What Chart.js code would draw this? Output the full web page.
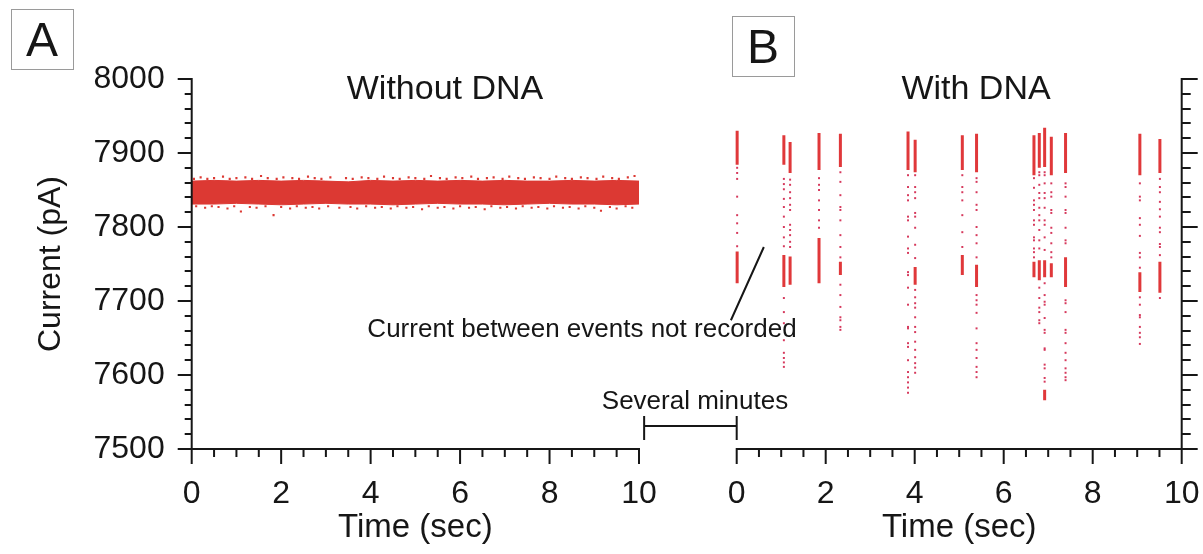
<!DOCTYPE html>
<html>
<head>
<meta charset="utf-8">
<script src="https://cdn.jsdelivr.net/npm/chart.js@4.4.1/dist/chart.umd.min.js"></script>
<style>
  html, body { margin: 0; padding: 0; background: #fff; }
  #wrap { position: relative; width: 1203px; height: 554px; overflow: hidden; }
  #wrap canvas { position: absolute; left: 0; top: 0; }
</style>
</head>
<body>
<div id="wrap">
  <canvas id="leftChart" width="1203" height="554"></canvas>
  <canvas id="rightChart" width="1203" height="554"></canvas>
</div>
<script>
// tick labels
const xTicks = [0, 2, 4, 6, 8, 10];
const yTicks = [7500, 7600, 7700, 7800, 7900, 8000];

// left panel (without DNA): dense noise band envelope, sampled every 0.5 s
const bandX = [0, 0.5, 1, 1.5, 2, 2.5, 3, 3.5, 4, 4.5, 5, 5.5, 6, 6.5, 7, 7.5, 8, 8.5, 9, 9.5, 10];
const bandUpper = [7862, 7863, 7862, 7863, 7862, 7863, 7862, 7861, 7863, 7862, 7863, 7862, 7863, 7862, 7863, 7862, 7862, 7863, 7862, 7863, 7862];
const bandLower = [7831, 7831, 7832, 7831, 7830, 7831, 7832, 7831, 7831, 7830, 7831, 7832, 7831, 7831, 7830, 7831, 7832, 7831, 7831, 7830, 7831];
// ragged samples at the band edges
const speckX = [0.05, 0.2, 0.35, 0.5, 0.7, 0.85, 1.0, 1.2, 1.35, 1.55, 1.7, 1.9, 2.05, 2.25, 2.4, 2.6, 2.75, 2.9, 3.1, 3.45, 3.6, 3.8, 3.95,
  4.15, 4.3, 4.5, 4.65, 4.85, 5.0, 5.2, 5.35, 5.55, 5.7, 5.9, 6.05, 6.25, 6.4, 6.6, 6.75, 6.95, 7.1, 7.3, 7.45, 7.65, 7.8, 8.0, 8.15,
  8.35, 8.5, 8.7, 8.85, 9.05, 9.2, 9.4, 9.55, 9.75, 9.9,
  0.1, 0.3, 0.45, 0.6, 0.8, 0.95, 1.1, 1.3, 1.45, 1.65, 1.83, 2.0, 2.2, 2.35, 2.55, 2.7, 2.85, 3.05, 3.3, 3.55, 3.7, 3.9, 4.1,
  4.25, 4.45, 4.6, 4.8, 4.95, 5.15, 5.3, 5.5, 5.65, 5.85, 6.0, 6.2, 6.35, 6.55, 6.7, 6.9, 7.05, 7.25, 7.4, 7.6, 7.75, 7.95,
  8.1, 8.3, 8.45, 8.65, 8.8, 9.0, 9.15, 9.35, 9.5, 9.7, 9.85, 9.98];
const speckY = [7865, 7867, 7865, 7866, 7868, 7865, 7866, 7867, 7865, 7869, 7866, 7865, 7867, 7866, 7865, 7868, 7866, 7865, 7867, 7866, 7865, 7867, 7866,
  7865, 7868, 7866, 7865, 7867, 7866, 7865, 7869, 7866, 7865, 7867, 7866, 7868, 7865, 7866, 7867, 7865, 7868, 7866, 7865, 7867, 7866, 7865, 7868,
  7866, 7865, 7867, 7866, 7865, 7868, 7866, 7865, 7867, 7869,
  7828, 7826, 7828, 7827, 7825, 7828, 7821, 7827, 7826, 7828, 7816, 7827, 7825, 7828, 7826, 7827, 7825, 7828, 7826, 7827, 7825, 7828, 7826,
  7827, 7825, 7828, 7826, 7827, 7824, 7828, 7826, 7827, 7825, 7828, 7826, 7827, 7824, 7828, 7826, 7827, 7825, 7828, 7826, 7827,
  7825, 7828, 7826, 7827, 7825, 7828, 7826, 7822, 7827, 7825, 7828, 7826];

// right panel (with DNA): events
const eventX = [0.01, 1.06, 1.20, 1.85, 2.33, 3.85, 4.01, 5.07, 5.39, 6.68, 6.80, 6.92, 7.07, 7.39, 9.06, 9.51];
const eventSolid = [
  [[7884, 7930], [7724, 7767]],
  [[7884, 7924], [7719, 7762]],
  [[7873, 7915], [7722, 7760]],
  [[7877, 7927], [7724, 7785]],
  [[7881, 7926], [7735, 7753]],
  [[7877, 7929]],
  [[7874, 7918], [7722, 7746]],
  [[7877, 7924], [7735, 7762]],
  [[7874, 7926], [7719, 7749]],
  [[7870, 7924], [7732, 7753]],
  [[7880, 7927], [7728, 7755]],
  [[7881, 7934], [7732, 7755], [7566, 7580]],
  [[7870, 7922], [7732, 7751]],
  [[7873, 7927], [7719, 7759]],
  [[7870, 7926], [7712, 7739]],
  [[7873, 7919], [7711, 7753]]
];
const eventDots = [
  [7880, 7873, 7865, 7841, 7816, 7805, 7792, 7774],
  [7865, 7858, 7851, 7838, 7827, 7814, 7800, 7786, 7774, 7704, 7685, 7670, 7647, 7630, 7623, 7617, 7611],
  [7864, 7857, 7847, 7839, 7830, 7823, 7803, 7796, 7789, 7780, 7773],
  [7866, 7857, 7850, 7836, 7823, 7809, 7799],
  [7874, 7861, 7843, 7827, 7823, 7809, 7789, 7773, 7759, 7722, 7708, 7692, 7678, 7674, 7665, 7661],
  [7870, 7854, 7843, 7836, 7814, 7809, 7787, 7771, 7765, 7739, 7735, 7718, 7695, 7665, 7663, 7643, 7638, 7620, 7604, 7597, 7590, 7583, 7576],
  [7870, 7854, 7847, 7839, 7819, 7814, 7799, 7776, 7758, 7715, 7705, 7697, 7691, 7678, 7665, 7658, 7645, 7634, 7624, 7616, 7610, 7603],
  [7870, 7854, 7847, 7836, 7816, 7793, 7773],
  [7866, 7861, 7847, 7830, 7823, 7800, 7789, 7778, 7759, 7708, 7701, 7695, 7684, 7663, 7643, 7634, 7623, 7611, 7604, 7597],
  [7866, 7853, 7836, 7830, 7823, 7809, 7803, 7786, 7782, 7771, 7766, 7759],
  [7874, 7870, 7857, 7846, 7839, 7826, 7816, 7809, 7796, 7782, 7771, 7718, 7704, 7691, 7685, 7674, 7670],
  [7874, 7870, 7859, 7846, 7839, 7826, 7809, 7803, 7786, 7769, 7724, 7708, 7699, 7695, 7677, 7661, 7657, 7636, 7634, 7614, 7609, 7596, 7591],
  [7859, 7847, 7841, 7823, 7819, 7799, 7792, 7778, 7766, 7759],
  [7859, 7854, 7841, 7823, 7819, 7799, 7782, 7778, 7701, 7697, 7685, 7661, 7657, 7643, 7630, 7620, 7609, 7603, 7597, 7593],
  [7859, 7841, 7836, 7812, 7803, 7788, 7765, 7759, 7745, 7705, 7695, 7681, 7678, 7665, 7657, 7651, 7642],
  [7865, 7854, 7847, 7834, 7824, 7814, 7799, 7793, 7777, 7773, 7762, 7704]
];

const RED = '#e0383a';
const DOT = '#d6385c';
const BAND = '#dc3933';
const INK = '#161616';
const FONT = "'Liberation Sans', Arial, Helvetica, sans-serif";

Chart.defaults.font.family = FONT;
Chart.defaults.color = INK;

// draws axis lines with outward major/minor ticks through the chart scales
function axisPlugin(side) {
  return {
    id: 'axisFrame',
    afterDraw(chart) {
      const { ctx, chartArea, scales } = chart;
      const axX = side === 'left' ? chartArea.left : chartArea.right;
      const dir = side === 'left' ? -1 : 1;
      ctx.save();
      ctx.strokeStyle = INK;
      ctx.lineWidth = 2;
      ctx.beginPath();
      ctx.moveTo(axX, chartArea.top - 1);
      ctx.lineTo(axX, chartArea.bottom + 1);
      ctx.moveTo(chartArea.left - 1, chartArea.bottom);
      ctx.lineTo(chartArea.right + 1, chartArea.bottom);
      for (let v = 7500; v <= 8000; v += 20) {
        const py = Math.round(scales.y.getPixelForValue(v));
        const len = yTicks.includes(v) ? (side === 'left' ? 14 : 16) : (side === 'left' ? 7 : 9);
        ctx.moveTo(axX, py);
        ctx.lineTo(axX + dir * len, py);
      }
      for (let v = 0; v <= 10; v += 0.5) {
        const px = scales.x.getPixelForValue(v);
        const len = xTicks.includes(v) ? 15 : 8;
        ctx.moveTo(px, chartArea.bottom);
        ctx.lineTo(px, chartArea.bottom + len);
      }
      ctx.stroke();
      ctx.restore();
    }
  };
}

function labelBox(ctx, x, y, w, h, letter) {
  ctx.save();
  ctx.strokeStyle = '#9a9a9a';
  ctx.lineWidth = 1;
  ctx.strokeRect(x + 0.5, y + 0.5, w, h);
  ctx.fillStyle = INK;
  ctx.font = '300 48px ' + FONT;
  ctx.textAlign = 'center';
  ctx.textBaseline = 'alphabetic';
  ctx.fillText(letter, x + w / 2, y + h / 2 + 17);
  ctx.restore();
}

const leftNotes = {
  id: 'leftNotes',
  afterDraw(chart) {
    const ctx = chart.ctx;
    labelBox(ctx, 11, 9, 62, 60, 'A');
    ctx.save();
    ctx.fillStyle = INK;
    ctx.font = '34px ' + FONT;
    ctx.textAlign = 'center';
    ctx.fillText('Without DNA', 445, 99);
    ctx.restore();
  }
};

const rightNotes = {
  id: 'rightNotes',
  afterDraw(chart) {
    const { ctx, scales } = chart;
    const x = scales.x, y = scales.y;
    labelBox(ctx, 732, 16, 62, 60, 'B');
    ctx.save();
    ctx.fillStyle = INK;
    ctx.textAlign = 'center';
    ctx.font = '34px ' + FONT;
    ctx.fillText('With DNA', 976, 99);
    ctx.font = '26px ' + FONT;
    ctx.fillText('Current between events not recorded', 582, 337);
    ctx.fillText('Several minutes', 695, 409);
    ctx.strokeStyle = INK;
    ctx.lineWidth = 2;
    ctx.beginPath();
    // leader line to the gap between events
    ctx.moveTo(x.getPixelForValue(0.61), y.getPixelForValue(7773));
    ctx.lineTo(x.getPixelForValue(-0.13), y.getPixelForValue(7674));
    // "several minutes" bracket
    const bl = x.getPixelForValue(-2.08), br = x.getPixelForValue(0);
    const by = y.getPixelForValue(7531);
    ctx.moveTo(bl, by); ctx.lineTo(br, by);
    ctx.moveTo(bl, by - 10); ctx.lineTo(bl, by + 14);
    ctx.moveTo(br, by - 10); ctx.lineTo(br, by + 14);
    ctx.stroke();
    ctx.restore();
  }
};

function xScale() {
  return {
    type: 'linear',
    min: 0,
    max: 10,
    afterBuildTicks: s => { s.ticks = xTicks.map(v => ({ value: v })); },
    afterFit: s => { s.height = 105; s.paddingLeft = 0; s.paddingRight = 0; },
    grid: { display: false, drawTicks: false },
    border: { display: false },
    ticks: { padding: 26, font: { size: 32 }, color: INK },
    title: { display: true, text: 'Time (sec)', font: { size: 33 }, color: INK, padding: { top: 0, bottom: 6 } }
  };
}

// left chart: without DNA
new Chart(document.getElementById('leftChart'), {
  type: 'scatter',
  data: {
    datasets: [
      {
        type: 'line',
        data: bandX.map((x, i) => ({ x: x, y: bandUpper[i] })),
        borderColor: BAND,
        backgroundColor: BAND,
        borderWidth: 1,
        pointRadius: 0,
        fill: '+1'
      },
      {
        type: 'line',
        data: bandX.map((x, i) => ({ x: x, y: bandLower[i] })),
        borderColor: BAND,
        borderWidth: 1,
        pointRadius: 0,
        fill: false
      },
      {
        data: speckX.map((x, i) => ({ x: x, y: speckY[i] })),
        backgroundColor: BAND,
        borderWidth: 0,
        pointStyle: 'rect',
        pointRadius: 1.5
      }
    ]
  },
  options: {
    responsive: false,
    animation: false,
    devicePixelRatio: 1,
    layout: { padding: { left: 0, top: 79, right: 564, bottom: 0 } },
    plugins: { legend: { display: false }, tooltip: { enabled: false } },
    scales: {
      x: xScale(),
      y: {
        type: 'linear',
        min: 7500,
        max: 8000,
        afterBuildTicks: s => { s.ticks = yTicks.map(v => ({ value: v })); },
        afterFit: s => { s.width = 191.7; s.paddingTop = 0; s.paddingBottom = 0; },
        grid: { display: false, drawTicks: false },
        border: { display: false },
        ticks: { padding: 27, font: { size: 32 }, color: INK, callback: v => String(v) },
        title: { display: true, text: 'Current (pA)', font: { size: 32 }, color: INK, padding: { top: 32, bottom: 0 } }
      }
    }
  },
  plugins: [axisPlugin('left'), leftNotes]
});

// right chart: with DNA
const solidPoints = [];
const dotPoints = [];
eventX.forEach((x, i) => {
  eventSolid[i].forEach(seg => {
    solidPoints.push({ x: x, y: seg[0] }, { x: x, y: seg[1] }, { x: x, y: null });
  });
  eventDots[i].forEach(v => dotPoints.push({ x: x, y: v }));
});

new Chart(document.getElementById('rightChart'), {
  type: 'scatter',
  data: {
    datasets: [
      {
        type: 'line',
        data: solidPoints,
        borderColor: RED,
        borderWidth: 3,
        borderCapStyle: 'butt',
        pointRadius: 0,
        spanGaps: false,
        fill: false,
        clip: false
      },
      {
        data: dotPoints,
        backgroundColor: DOT,
        borderWidth: 0,
        pointStyle: 'rect',
        pointRadius: 1.4,
        clip: false
      }
    ]
  },
  options: {
    responsive: false,
    animation: false,
    devicePixelRatio: 1,
    layout: { padding: { left: 736.7, top: 79, right: 0, bottom: 0 } },
    plugins: { legend: { display: false }, tooltip: { enabled: false } },
    scales: {
      x: xScale(),
      y: {
        type: 'linear',
        position: 'right',
        min: 7500,
        max: 8000,
        afterFit: s => { s.width = 21.3; s.paddingTop = 0; s.paddingBottom = 0; },
        grid: { display: false, drawTicks: false },
        border: { display: false },
        ticks: { display: false }
      }
    }
  },
  plugins: [axisPlugin('right'), rightNotes]
});
</script>
</body>
</html>
